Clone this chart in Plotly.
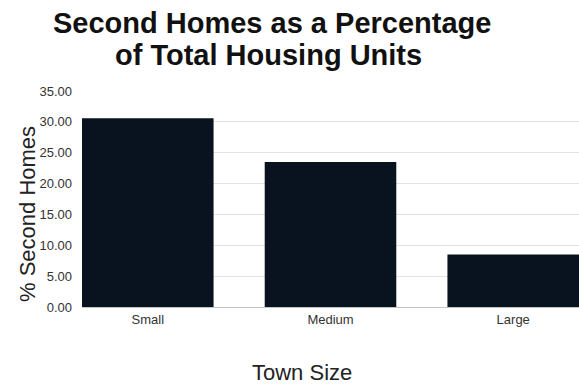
import plotly.graph_objects as go

# Share of housing units that are second homes, by town size
town_sizes = ["Small", "Medium", "Large"]
pct_second_homes = [30.6, 23.5, 8.5]
y_ticks = [0, 5, 10, 15, 20, 25, 30, 35]

W, H = 579, 388
L, R, T, B = 82, 0, 91, 81
PW, PH = W - L - R, H - T - B


def px(x):
    return (x - L) / PW


def py(y):
    return (H - B - y) / PH


fig = go.Figure(
    go.Bar(
        x=town_sizes,
        y=pct_second_homes,
        marker=dict(color="#09131f", line=dict(width=0)),
        width=0.72,
        hoverinfo="x+y",
    )
)

font_family = "Liberation Sans, Arial, sans-serif"

fig.update_layout(
    width=W,
    height=H,
    margin=dict(l=L, r=R, t=T, b=B),
    paper_bgcolor="white",
    plot_bgcolor="white",
    showlegend=False,
    font=dict(family=font_family, color="#333333", size=13),
    xaxis=dict(
        range=[-0.36, 2.36],
        showgrid=False,
        showline=False,
        zeroline=False,
        ticks="",
        ticklabelstandoff=3,
        tickfont=dict(size=13, color="#333333"),
        fixedrange=True,
    ),
    yaxis=dict(
        range=[0, 35],
        tickvals=y_ticks,
        tickformat=".2f",
        showgrid=True,
        gridcolor="#e2e2e2",
        gridwidth=1,
        zeroline=True,
        zerolinecolor="#c4c4c4",
        zerolinewidth=1,
        showline=False,
        ticks="",
        ticklabelstandoff=9,
        tickfont=dict(size=13, color="#333333"),
        fixedrange=True,
    ),
    annotations=[
        dict(
            text="<b>Second Homes as a Percentage</b>",
            x=px(272), y=py(23), xref="paper", yref="paper",
            xanchor="center", yanchor="middle", showarrow=False,
            font=dict(size=29, color="#111111", family=font_family),
        ),
        dict(
            text="<b>of Total Housing Units</b>",
            x=px(268), y=py(55), xref="paper", yref="paper",
            xanchor="center", yanchor="middle", showarrow=False,
            font=dict(size=29, color="#111111", family=font_family),
        ),
        dict(
            text="% Second Homes",
            x=px(27), y=py(214), xref="paper", yref="paper",
            xanchor="center", yanchor="middle", showarrow=False,
            textangle=-90,
            font=dict(size=22, color="#222222", family=font_family),
        ),
        dict(
            text="Town Size",
            x=px(302), y=py(372), xref="paper", yref="paper",
            xanchor="center", yanchor="middle", showarrow=False,
            font=dict(size=22, color="#222222", family=font_family),
        ),
    ],
)

fig.write_html("out.html")
